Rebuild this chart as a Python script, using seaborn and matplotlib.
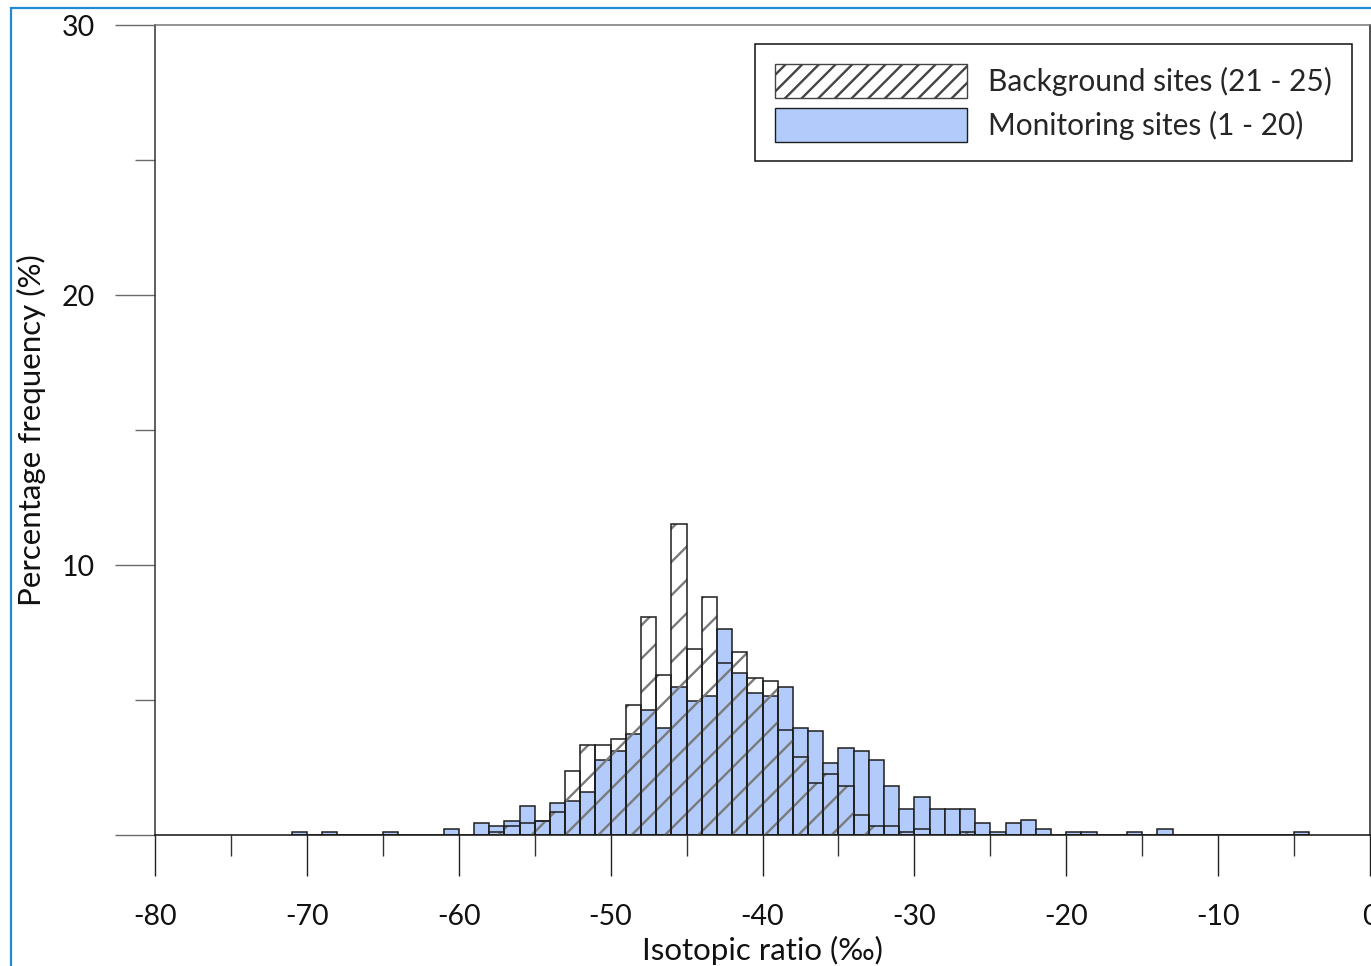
import numpy as np
import pandas as pd
import matplotlib
matplotlib.use("Agg")
import matplotlib.pyplot as plt
from matplotlib.patches import Patch, Rectangle
from matplotlib.ticker import FixedLocator
import seaborn as sns

# ---- data (percent frequency per 1 per-mil bin; left bin edges) ----
monitoring_bins = [-71, -69, -65, -61, -59, -58, -57, -56, -55, -54, -53, -52, -51, -50,
                   -49, -48, -47, -46, -45, -44, -43, -42, -41, -40, -39, -38, -37, -36,
                   -35, -34, -33, -32, -31, -30, -29, -28, -27, -26, -25, -24, -23, -22,
                   -20, -19, -16, -14, -5]
monitoring_pct = [0.11, 0.11, 0.11, 0.22, 0.43, 0.32, 0.53, 1.06, 0.53, 1.17, 1.27, 1.60, 2.79, 3.11,
                  3.75, 4.62, 3.96, 5.47, 4.95, 5.15, 7.62, 6.01, 5.26, 5.15, 5.47, 3.96, 3.86, 2.68,
                  3.22, 3.11, 2.79, 1.83, 0.96, 1.40, 0.96, 0.96, 0.96, 0.43, 0.11, 0.43, 0.54, 0.22,
                  0.11, 0.11, 0.11, 0.22, 0.11]

background_bins = [-58, -57, -56, -55, -54, -53, -52, -51, -50, -49, -48, -47, -46, -45,
                   -44, -43, -42, -41, -40, -39, -38, -37, -36, -35, -34, -33, -32, -31,
                   -30, -27]
background_pct = [0.10, 0.32, 0.43, 0.53, 0.86, 2.36, 3.32, 3.32, 3.54, 4.83, 8.06, 5.91, 11.51, 6.88,
                  8.80, 6.36, 6.77, 5.80, 5.69, 3.88, 2.90, 1.93, 2.25, 1.83, 0.75, 0.32, 0.32, 0.11,
                  0.21, 0.11]

x_major = [-80, -70, -60, -50, -40, -30, -20, -10, 0]
x_labels = ["-80", "-70", "-60", "-50", "-40", "-30", "-20", "-10", "0"]
x_minor = [-75, -65, -55, -45, -35, -25, -15, -5]
y_major = [0, 10, 20, 30]
y_labels = ["", "10", "20", "30"]
y_minor = [5, 15, 25]

label_bg = "Background sites (21 - 25)"
label_mon = "Monitoring sites (1 - 20)"
xlabel = "Isotopic ratio (‰)"
ylabel = "Percentage frequency (%)"

# ---- style ----
sns.set_style("ticks")
plt.rcParams["font.family"] = ["Lato", "DejaVu Sans"]
plt.rcParams["hatch.linewidth"] = 1.7
FS = 20.5
FS_LAB = 22.5
FS_LEG = 21.5
BLUE = "#b2cbfb"
DARK = "#1e1e1e"

fig = plt.figure(figsize=(13.71, 9.66), dpi=100)
ax = fig.add_axes([155 / 1371, 1 - 835 / 966, 1215 / 1371, 810 / 966])

mon_df = pd.DataFrame({"x": np.array(monitoring_bins, dtype=float) + 0.5,
                       "w": np.array(monitoring_pct, dtype=float)})
bg_df = pd.DataFrame({"x": np.array(background_bins, dtype=float) + 0.5,
                      "w": np.array(background_pct, dtype=float)})
mon_range = (min(monitoring_bins), max(monitoring_bins) + 1)
bg_range = (min(background_bins), max(background_bins) + 1)

# monitoring (blue filled)
sns.histplot(data=mon_df, x="x", weights="w", binwidth=1, binrange=mon_range, stat="count",
             color=BLUE, alpha=1, edgecolor=DARK, linewidth=1.1, ax=ax, zorder=2)
# background hatch layer
sns.histplot(data=bg_df, x="x", weights="w", binwidth=1, binrange=bg_range, stat="count",
             fill=True, facecolor="none", edgecolor="#7a7a7a", linewidth=0,
             hatch="/", ax=ax, zorder=3)
# background outline layer
sns.histplot(data=bg_df, x="x", weights="w", binwidth=1, binrange=bg_range, stat="count",
             fill=False, color=DARK, linewidth=1.1, ax=ax, zorder=4)

ax.set_xlim(-80, 0)
ax.set_ylim(0, 30)

ax.xaxis.set_major_locator(FixedLocator(x_major))
ax.xaxis.set_minor_locator(FixedLocator(x_minor))
ax.set_xticklabels(x_labels)
ax.yaxis.set_major_locator(FixedLocator(y_major))
ax.yaxis.set_minor_locator(FixedLocator(y_minor))
ax.set_yticklabels(y_labels)

ax.tick_params(axis="both", which="major", direction="out", labelsize=FS, labelcolor="#111")
ax.tick_params(axis="y", which="major", length=29, width=1.0, color="#6a6a6a", pad=14)
ax.tick_params(axis="y", which="minor", length=14.5, width=1.0, color="#6a6a6a")
ax.tick_params(axis="x", which="major", length=29.5, width=1.0, color="#222222", pad=20)
ax.tick_params(axis="x", which="minor", length=15, width=1.0, color="#333333")

for side, col in [("left", "#333333"), ("bottom", "#111111"), ("top", "#777777"), ("right", "#222222")]:
    ax.spines[side].set_visible(True)
    ax.spines[side].set_color(col)
    ax.spines[side].set_linewidth(1.1)

ax.set_xlabel(xlabel, fontsize=FS_LAB, color="#111")
ax.set_ylabel(ylabel, fontsize=FS_LAB, color="#111")
ax.xaxis.set_label_coords(0.5, -0.124)
ax.yaxis.set_label_coords(-0.090, 0.5)

handles = [Patch(facecolor="white", edgecolor="#444444", hatch="//", linewidth=1.0),
           Patch(facecolor=BLUE, edgecolor=DARK, linewidth=1.0)]
leg = ax.legend(handles, [label_bg, label_mon], loc="upper right",
                bbox_to_anchor=(0.985, 0.9765), borderaxespad=0, fontsize=FS_LEG,
                frameon=True, fancybox=False, framealpha=1, edgecolor="#111111",
                handlelength=6.45, handleheight=1.37, handletextpad=0.7,
                borderpad=0.66, labelspacing=0.34)
leg.get_frame().set_linewidth(1.1)

# thin blue frame of the original figure (left/top edges visible)
fig.patches.append(Rectangle((10.5 / 1371, -0.2), 1.2, 0.2 + 1 - 8 / 966,
                             transform=fig.transFigure, fill=False,
                             edgecolor="#2288d8", linewidth=1.6, zorder=10))

fig.savefig("out.png", dpi=100)
